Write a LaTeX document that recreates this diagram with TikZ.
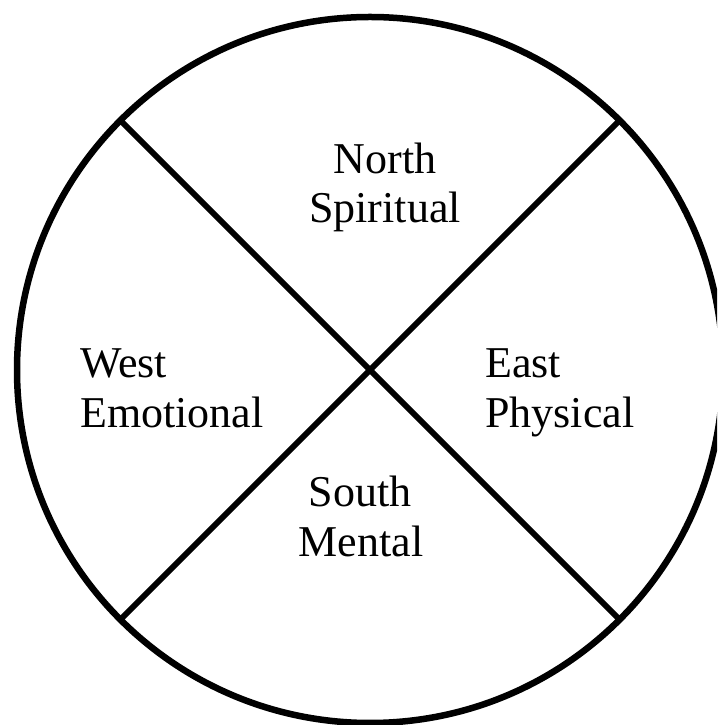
\documentclass[tikz,border=0pt]{standalone}
\usepackage{fontspec}
\setmainfont{Liberation Serif}
\begin{document}
\begin{tikzpicture}[x=1pt,y=1pt,
  ring/.style={circle,draw=black,line width=6.5pt,inner sep=0pt,outer sep=0pt,minimum size=706pt},
  divider/.style={draw=black,line width=5.8pt},
  lbl/.style={inner sep=0pt,font=\fontsize{44}{50}\selectfont,text=black}]
\useasboundingbox (0,0) rectangle (717,725);
\fill[white] (0,0) rectangle (717,725);
\clip (0,0) rectangle (717,725);
\node[ring] (c) at (370,355) {};
\draw[divider] (c.135) -- (c.-45);
\draw[divider] (c.45) -- (c.-135);
\node[lbl,anchor=base] (n1) at (385,551) {North};
\node[lbl,anchor=base] (n2) at (385,502) {Spiritual};
\node[lbl,anchor=base west] (w1) at (80,347) {West};
\node[lbl,anchor=base west] (w2) at (80,297) {Emotional};
\node[lbl,anchor=base west] (e1) at (485,347) {East};
\node[lbl,anchor=base west] (e2) at (485,297) {Physical};
\node[lbl,anchor=base] (s1) at (360,218) {South};
\node[lbl,anchor=base] (s2) at (361,168) {Mental};
\end{tikzpicture}
\end{document}
